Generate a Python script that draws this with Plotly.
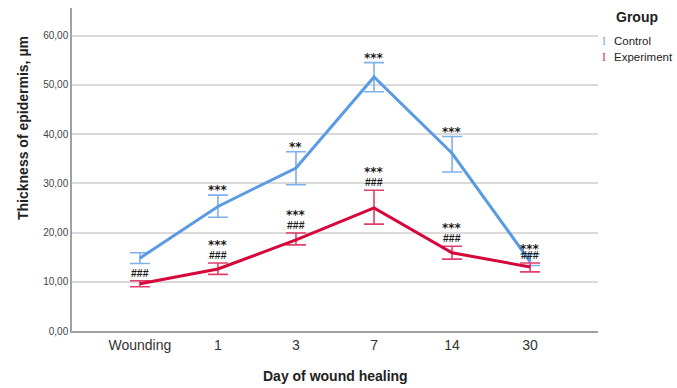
import plotly.graph_objects as go

categories = ["Wounding", "1", "3", "7", "14", "30"]
control_mean = [14.8, 25.3, 33.1, 51.6, 36.1, 14.1]
control_upper = [15.9, 27.6, 36.4, 54.5, 39.5, 15.6]
control_lower = [13.7, 23.1, 29.7, 48.6, 32.3, 13.3]
exp_mean = [9.6, 12.6, 18.5, 25.0, 15.9, 13.0]
exp_upper = [10.2, 13.8, 19.9, 28.6, 17.2, 13.8]
exp_lower = [9.0, 11.5, 17.5, 21.7, 14.6, 12.0]
control_marks = ["", "***", "**", "***", "***", "***"]
exp_stars = ["", "***", "***", "***", "***", ""]
exp_hashes = ["###", "###", "###", "###", "###", "###"]

C_BLUE = "#5B9BE3"
C_BLUE_ERR = "#7EB0EC"
C_RED = "#D6083B"
C_RED_ERR = "#E0406A"
FONT = "Liberation Sans, Arial, sans-serif"
STAR_FONT = "DejaVu Sans, sans-serif"

fig = go.Figure()
fig.add_trace(go.Scatter(
    x=categories, y=control_mean, mode="lines", name="Control",
    line=dict(color=C_BLUE, width=3),
    error_y=dict(type="data", symmetric=False,
                 array=[u - m for u, m in zip(control_upper, control_mean)],
                 arrayminus=[m - l for m, l in zip(control_mean, control_lower)],
                 color=C_BLUE_ERR, thickness=1.6, width=10),
    showlegend=False, hoverinfo="skip"))
fig.add_trace(go.Scatter(
    x=categories, y=exp_mean, mode="lines", name="Experiment",
    line=dict(color=C_RED, width=3),
    error_y=dict(type="data", symmetric=False,
                 array=[u - m for u, m in zip(exp_upper, exp_mean)],
                 arrayminus=[m - l for m, l in zip(exp_mean, exp_lower)],
                 color=C_RED_ERR, thickness=1.6, width=10),
    showlegend=False, hoverinfo="skip"))

ann = []
for i, (up, t) in enumerate(zip(control_upper, control_marks)):
    if t:
        ann.append(dict(x=i, y=up, text="<b>" + t + "</b>", showarrow=False, yanchor="bottom",
                        yshift=-4, font=dict(family=STAR_FONT, size=12, color="#1a1a1a")))
for i, (up, t) in enumerate(zip(exp_upper, exp_hashes)):
    if t:
        ann.append(dict(x=i, y=up, text="<b>" + t + "</b>", showarrow=False, yanchor="bottom",
                        yshift=0, font=dict(family=FONT, size=10.5, color="#1a1a1a")))
for i, (up, t) in enumerate(zip(exp_upper, exp_stars)):
    if t:
        ann.append(dict(x=i, y=up, text="<b>" + t + "</b>", showarrow=False, yanchor="bottom",
                        yshift=9, font=dict(family=STAR_FONT, size=12, color="#1a1a1a")))

# pixel -> paper helpers for legend and axis titles
def px(xp):
    return (xp - 72) / 526
def py(yp):
    return (331 - yp) / 323

ann.append(dict(xref="paper", yref="paper", x=px(614), y=py(17), xanchor="left",
                yanchor="middle", text="<b>Group</b>", showarrow=False,
                font=dict(family=FONT, size=14, color="#222")))
for name, col, yp in [("Control", C_BLUE_ERR, 41), ("Experiment", C_RED_ERR, 57)]:
    ann.append(dict(xref="paper", yref="paper", x=px(600), y=py(yp), xanchor="left",
                    yanchor="middle", text="I", showarrow=False,
                    font=dict(family="Liberation Serif, serif", size=12, color=col)))
    ann.append(dict(xref="paper", yref="paper", x=px(612), y=py(yp), xanchor="left",
                    yanchor="middle", text=name, showarrow=False,
                    font=dict(family=FONT, size=11.5, color="#222")))

ann.append(dict(xref="paper", yref="paper", x=px(335), y=py(376), xanchor="center",
                yanchor="middle", text="<b>Day of wound healing</b>", showarrow=False,
                font=dict(family=FONT, size=14, color="#222")))
ann.append(dict(xref="paper", yref="paper", x=px(23), y=py(128), xanchor="center",
                yanchor="middle", text="<b>Thickness of epidermis, µm</b>", showarrow=False,
                textangle=-90, font=dict(family=FONT, size=14, color="#222")))

fig.update_layout(
    width=677, height=388,
    margin=dict(l=72, r=79, t=8, b=57),
    paper_bgcolor="white", plot_bgcolor="white",
    separators=", ",
    font=dict(family=FONT, color="#333"),
    annotations=ann,
    hovermode=False,
    xaxis=dict(type="category", range=[-0.87, 5.87], showgrid=False, automargin=False,
               showline=True, linecolor="#a0a0a0", linewidth=1.5,
               ticks="", tickfont=dict(size=14, color="#333")),
    yaxis=dict(range=[0, 65.6], dtick=10, tickformat=".2f", automargin=False,
               showgrid=True, gridcolor="#dadada", gridwidth=1.5,
               zeroline=False, showline=True, linecolor="#a0a0a0", linewidth=1.5,
               ticks="", tickfont=dict(size=10, color="#444")),
)

fig.write_html("out.html", config={"displayModeBar": False},
               post_script="document.body.style.margin='0';")
